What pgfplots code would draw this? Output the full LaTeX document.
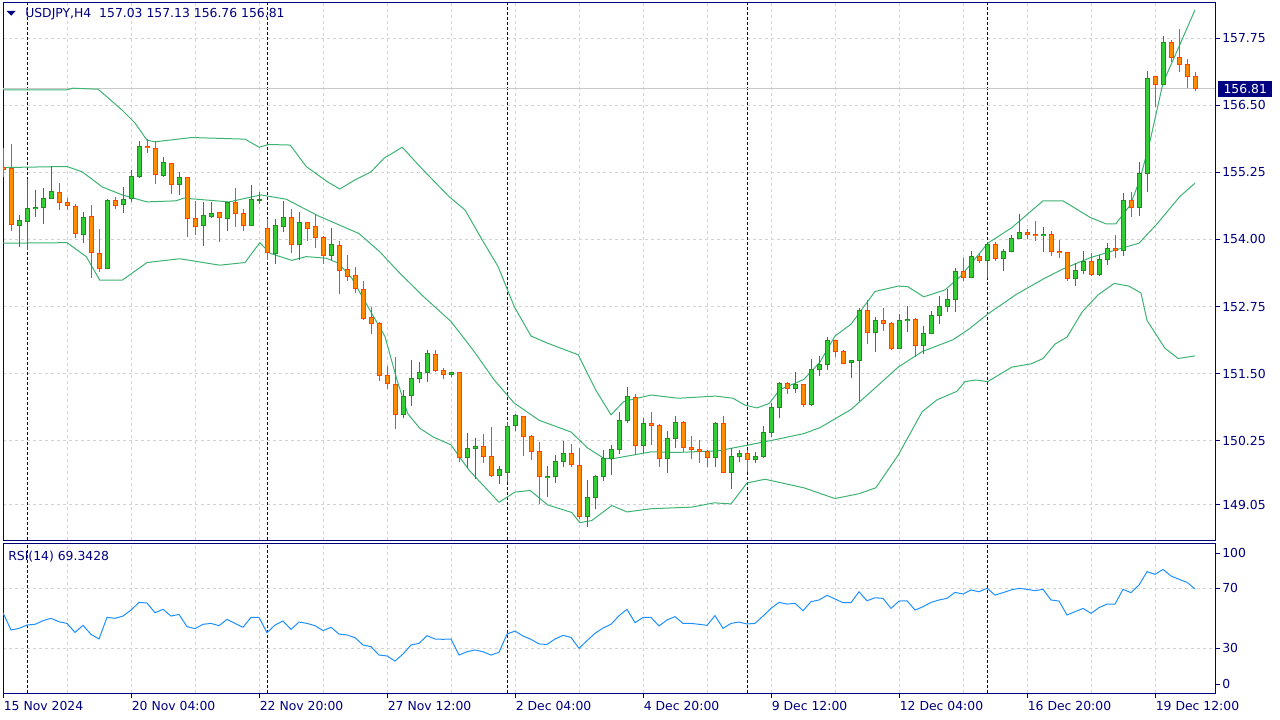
\documentclass[border=0pt]{standalone}
\usepackage{fontspec}
\setmainfont{DejaVu Sans}
\usepackage{pgfplots}
\usepackage{pgfplotstable}
\pgfplotsset{compat=1.18}

\definecolor{mtnavy}{RGB}{0,0,128}
\definecolor{gridc}{RGB}{211,211,211}
\definecolor{upfill}{RGB}{50,205,50}
\definecolor{updraw}{RGB}{34,139,34}
\definecolor{dnfill}{RGB}{255,140,0}
\definecolor{dndraw}{RGB}{255,69,0}
\definecolor{bandc}{RGB}{60,179,113}
\definecolor{rsic}{RGB}{30,144,255}
\definecolor{pricel}{RGB}{200,200,200}

% bullish candles: bar index, open, high, low, close
\pgfplotstableread{
k o h l c
-1 154.26 154.46 153.85 154.36
0 154.33 155.13 153.80 154.58
1 154.57 154.92 154.41 154.59
2 154.60 154.95 154.28 154.77
3 154.77 155.36 154.76 154.90
7 154.10 154.52 153.93 154.41
10 153.46 154.75 153.44 154.72
12 154.66 154.97 154.50 154.75
13 154.77 155.29 154.70 155.18
14 155.17 155.84 155.14 155.74
17 155.19 155.54 155.17 155.44
19 155.03 155.26 154.83 155.16
22 154.26 154.70 153.88 154.44
23 154.43 154.70 154.40 154.49
25 154.39 154.70 154.16 154.69
28 154.26 155.02 154.25 154.75
29 154.73 154.88 154.66 154.74
31 153.74 154.39 153.54 154.26
32 154.24 154.72 154.14 154.41
34 153.91 154.51 153.62 154.32
38 153.70 154.21 153.62 153.91
47 150.74 151.19 150.67 151.07
48 151.10 151.75 150.90 151.41
49 151.41 151.72 151.33 151.52
50 151.52 151.94 151.35 151.88
53 151.49 151.53 151.43 151.52
55 149.94 150.39 149.74 150.11
56 150.11 150.29 149.53 150.14
59 149.60 149.78 149.45 149.71
60 149.65 150.60 149.48 150.52
61 150.54 150.74 150.42 150.72
65 149.57 149.78 149.20 149.59
66 149.59 149.98 149.46 149.86
67 149.86 150.24 149.76 150.01
70 148.84 149.52 148.64 149.19
71 149.19 149.61 148.97 149.59
72 149.59 150.07 149.50 149.92
73 149.92 150.17 149.61 150.09
74 150.09 150.78 150.00 150.62
75 150.62 151.24 150.57 151.08
77 150.15 150.68 150.02 150.57
80 149.92 150.42 149.65 150.29
81 150.29 150.70 150.12 150.59
86 149.94 150.59 149.75 150.57
88 149.66 150.12 149.34 149.96
89 149.95 150.07 149.86 150.01
91 149.90 150.03 149.83 149.96
92 149.96 150.52 149.93 150.40
93 150.40 150.95 150.32 150.87
94 150.87 151.35 150.68 151.32
96 151.22 151.53 151.14 151.30
98 150.93 151.78 150.90 151.58
99 151.58 151.83 151.46 151.67
100 151.67 152.18 151.57 152.11
103 151.71 151.76 151.41 151.75
104 151.75 152.72 150.99 152.67
106 152.27 152.55 151.91 152.49
109 151.97 152.61 151.95 152.48
110 152.48 152.76 152.27 152.50
112 152.02 152.39 151.86 152.25
113 152.25 152.67 152.23 152.59
114 152.59 152.95 152.43 152.75
115 152.75 153.07 152.64 152.88
116 152.88 153.47 152.65 153.41
118 153.29 153.78 153.28 153.69
120 153.61 153.96 153.29 153.90
122 153.65 153.82 153.42 153.77
123 153.77 154.08 153.76 154.02
124 154.02 154.47 154.00 154.13
127 154.07 154.24 153.77 154.09
131 153.28 153.57 153.14 153.42
132 153.42 153.78 153.36 153.58
134 153.35 153.71 153.32 153.63
135 153.63 153.93 153.52 153.83
137 153.80 154.87 153.70 154.73
139 154.60 155.45 154.44 155.23
140 155.23 157.14 154.89 157.00
142 156.89 157.79 156.88 157.68
}\bulltab

% bearish candles: bar index, open, high, low, close
\pgfplotstableread{
k o h l c
-3 155.34 155.70 155.17 155.31
-2 155.33 155.78 154.16 154.28
4 154.88 155.05 154.55 154.69
5 154.69 154.77 154.55 154.63
6 154.62 154.66 154.02 154.11
8 154.43 154.64 153.28 153.76
9 153.74 154.19 153.40 153.46
11 154.73 154.80 154.56 154.64
15 155.74 155.87 155.62 155.72
16 155.70 155.84 155.03 155.21
18 155.42 155.43 154.85 155.03
20 155.16 155.17 154.05 154.39
21 154.39 154.72 154.08 154.24
24 154.51 154.52 153.96 154.41
26 154.69 154.95 154.24 154.49
27 154.49 154.56 154.16 154.26
30 154.21 154.38 153.62 153.76
33 154.41 154.56 153.74 153.91
35 154.32 154.33 153.98 154.21
36 154.25 154.47 153.84 154.04
37 154.04 154.06 153.54 153.70
39 153.89 153.97 152.98 153.43
40 153.44 153.71 153.23 153.31
41 153.33 153.48 153.00 153.09
42 153.07 153.23 152.49 152.53
43 152.55 152.75 152.23 152.44
44 152.44 152.46 151.36 151.47
45 151.47 151.64 151.21 151.32
46 151.30 151.80 150.46 150.74
51 151.86 151.94 151.53 151.55
52 151.56 151.60 151.39 151.49
54 151.52 151.53 149.86 149.94
57 150.14 150.37 149.83 149.96
58 149.96 150.51 149.57 149.60
62 150.70 150.71 149.97 150.33
63 150.33 150.36 149.89 150.05
64 150.05 150.22 149.06 149.58
68 150.01 150.19 149.76 149.80
69 149.79 150.12 148.78 148.84
76 151.06 151.12 149.98 150.15
78 150.56 150.78 150.17 150.53
79 150.53 150.56 149.76 149.92
82 150.59 150.61 150.04 150.12
83 150.12 150.34 149.90 150.09
84 150.09 150.27 149.84 150.04
85 150.04 150.07 149.75 149.94
87 150.57 150.70 149.64 149.66
90 150.01 150.07 149.67 149.90
95 151.32 151.34 151.11 151.22
97 151.30 151.31 150.88 150.93
101 152.11 152.12 151.81 151.91
102 151.91 151.93 151.69 151.69
105 152.67 152.87 152.05 152.27
107 152.48 152.72 152.30 152.44
108 152.44 152.46 151.93 151.97
111 152.50 152.53 151.80 152.02
117 153.41 153.66 153.23 153.29
119 153.69 153.74 153.57 153.61
121 153.90 153.96 153.59 153.65
125 154.13 154.19 154.00 154.10
126 154.10 154.34 153.97 154.07
128 154.09 154.16 153.70 153.77
129 153.77 153.99 153.65 153.75
130 153.75 153.76 153.23 153.28
133 153.58 153.74 153.32 153.35
136 153.83 154.08 153.66 153.80
138 154.73 154.88 154.42 154.60
141 157.03 157.05 156.47 156.89
143 157.68 157.72 157.30 157.40
144 157.40 157.92 157.13 157.27
145 157.27 157.36 156.82 157.04
146 157.03 157.13 156.76 156.81
}\beartab

\pgfplotsset{
  candle/.style 2 args={draw=none, mark=none, forget plot,
    error bars/y dir=both, error bars/y explicit, error bars/error mark=none,
    error bars/error bar style={draw=#1, solid, line width=#2}},
  mt/.style={
    scale only axis, width=909pt,
    xmin=-3, xmax=148.5,
    axis line style={mtnavy, line width=0.75pt},
    grid style={gridc, dash pattern=on 2.25pt off 2.25pt, line width=0.75pt},
    minor grid style={gridc, dash pattern=on 2.25pt off 2.25pt, line width=0.75pt},
    ytick pos=right, yticklabel pos=right, xtick pos=bottom,
    tick align=outside, major tick length=3.75pt, minor tick length=0pt,
    tick style={mtnavy, line width=0.75pt},
    ticklabel style={font=\fontsize{9.3}{11}\selectfont, text=mtnavy},
    yticklabel style={inner sep=0pt, xshift=1.5pt},
    extra x ticks={0,30,60,90,120}, extra x tick labels={},
    extra x tick style={grid=major, major tick length=0pt,
      major grid style={mtnavy, dash pattern=on 2.25pt off 1.5pt, line width=0.75pt}},
  },
}

\begin{document}
\begin{tikzpicture}[font=\fontsize{9.3}{11}\selectfont]
\path[use as bounding box] (0,0) rectangle (960pt,-540pt);

\begin{axis}[mt,
  at={(2.25pt,-2.25pt)}, anchor=north west,
  height=402.75pt,
  ymin=148.397, ymax=158.408,
  xtick={-3,5,...,141}, xticklabels={}, xtick style={draw=none},
  ytick={149.05,150.25,151.5,152.75,154,155.25,156.5,157.75},
  yticklabels={149.05,150.25,151.50,152.75,154.00,155.25,156.50,157.75},
  xmajorgrids, ymajorgrids,
]
\addplot[pricel, line width=0.75pt] coordinates {(-3,156.81) (148.5,156.81)};

% Bollinger bands (20,2)
\addplot[bandc, line width=0.75pt] coordinates {
(-3,156.79) (5,156.79) (5.75,156.82) (8.9,156.80) (11.9,156.41) (13.5,156.17) (15,155.85) (16,155.82)
(20.6,155.90) (27.25,155.87) (29,155.72) (30.25,155.77) (32.9,155.76) (34.9,155.36) (37.5,155.08)
(39.1,154.94) (41,155.11) (43,155.26) (44.6,155.51) (46.9,155.72) (49.1,155.36) (52.75,154.80)
(54.75,154.55) (56.9,153.99) (58.9,153.49) (60.9,152.75) (63,152.20) (65,152.07) (68.9,151.85)
(71.1,151.19) (73,150.73) (74.6,150.98) (78,151.10) (81.4,151.04) (86.1,151.08) (88.25,151.04)
(89.75,150.91) (91.25,150.86) (92.75,150.94) (94.1,151.20) (97.1,151.39) (99.1,151.71) (101,152.20)
(103,152.42) (106,153.03) (108.9,153.13) (110.1,153.12) (112.1,152.93) (114.75,153.06) (116.75,153.32)
(120.1,153.93) (123.1,154.22) (127,154.72) (129.5,154.72) (132.9,154.41) (134.9,154.29) (136.1,154.29)
(137.9,154.64) (139.1,155.11) (140.4,155.85) (142,156.92) (144.1,157.63) (146,158.28)};
\addplot[bandc, line width=0.75pt] coordinates {
(-3,155.34) (5,155.36) (6.9,155.26) (9.4,154.98) (11.9,154.83) (15,154.70) (18.6,154.72) (19.6,154.77)
(25.25,154.70) (29.25,154.83) (32.4,154.75) (36.4,154.44) (41.5,154.11) (44.1,153.77) (46.6,153.37)
(49.6,152.93) (53,152.47) (55.75,151.94) (58.4,151.38) (60.9,150.95) (64,150.63) (68,150.41)
(70.1,150.11) (72.1,149.92) (73.1,149.91) (78,150.04) (81.4,150.03) (86.4,150.06) (90.25,150.17)
(93.6,150.27) (97.1,150.38) (99.1,150.49) (103,150.83) (106,151.23) (108.9,151.62) (111.9,151.91)
(115.75,152.13) (117.75,152.33) (120.1,152.61) (123.6,152.97) (127,153.26) (129.5,153.45) (132.9,153.66)
(136.9,153.84) (139,153.93) (141.25,154.29) (144.1,154.80) (146,155.05)};
\addplot[bandc, line width=0.75pt] coordinates {
(-3,153.93) (5,153.94) (7.4,153.68) (9.1,153.24) (11.9,153.24) (15,153.57) (19.1,153.64) (24.1,153.52)
(27.25,153.57) (29.1,153.94) (30.4,153.74) (33.1,153.61) (34.9,153.68) (37.4,153.65) (38.9,153.56)
(40.6,153.28) (42.6,152.75) (44.75,152.19) (46.25,151.38) (47.6,150.75) (49.1,150.48) (50.75,150.32)
(53,150.17) (55.25,149.70) (59,149.10) (61,149.29) (62.9,149.32) (65.1,149.05) (68.1,148.91)
(69.1,148.72) (70.6,148.76) (73.1,149.04) (75,148.92) (78,148.98) (83.1,149.01) (85.9,149.09)
(88,149.07) (90,149.46) (92.25,149.53) (97.1,149.37) (101,149.17) (104,149.26) (106.1,149.37)
(108.9,149.98) (111.9,150.79) (113.75,151.01) (116.25,151.17) (117.25,151.35) (118.6,151.38)
(120.1,151.35) (123.1,151.62) (125.5,151.68) (127,151.78) (128.5,152.05) (130,152.18) (131.9,152.65)
(133.9,152.97) (135.9,153.18) (137.75,153.13) (139.25,153.00) (140,152.49) (142.25,151.97)
(143.9,151.78) (146,151.83)};

% wicks
\addplot[candle={updraw}{0.75pt}]
  table[x=k, y=l, y error plus expr={\thisrow{h}-\thisrow{l}}, y error minus expr={0}] {\bulltab};
\addplot[candle={dndraw}{0.75pt}]
  table[x=k, y=l, y error plus expr={\thisrow{h}-\thisrow{l}}, y error minus expr={0}] {\beartab};
% bodies: outline pass, then fill pass
\addplot[candle={updraw}{3.75pt}]
  table[x=k, y expr={\thisrow{o}-0.0093}, y error plus expr={\thisrow{c}-\thisrow{o}+0.0186}, y error minus expr={0}] {\bulltab};
\addplot[candle={upfill}{2.25pt}]
  table[x=k, y expr={\thisrow{o}+0.0093}, y error plus expr={max(\thisrow{c}-\thisrow{o}-0.0186,0)}, y error minus expr={0}] {\bulltab};
\addplot[candle={dndraw}{3.75pt}]
  table[x=k, y expr={\thisrow{c}-0.0093}, y error plus expr={\thisrow{o}-\thisrow{c}+0.0186}, y error minus expr={0}] {\beartab};
\addplot[candle={dnfill}{2.25pt}]
  table[x=k, y expr={\thisrow{c}+0.0093}, y error plus expr={max(\thisrow{o}-\thisrow{c}-0.0186,0)}, y error minus expr={0}] {\beartab};

\fill[mtnavy] ([xshift=2.8pt,yshift=-6pt]rel axis cs:0,1) -- ([xshift=9.55pt,yshift=-6pt]rel axis cs:0,1)
  -- ([xshift=6.175pt,yshift=-9.4pt]rel axis cs:0,1) -- cycle;
\node[anchor=base west, inner sep=0pt, text=mtnavy] at ([xshift=16.5pt,yshift=-10.9pt]rel axis cs:0,1)
  {USDJPY,H4\ \ 157.03 157.13 156.76 156.81};
\coordinate (pb) at (axis cs:148.5,156.81);
\end{axis}
\node[anchor=west, fill=mtnavy, text=white, inner sep=0pt, minimum width=40.5pt, minimum height=12pt,
  xshift=2.25pt] at (pb) {156.81};

\begin{axis}[mt,
  at={(2.25pt,-407.25pt)}, anchor=north west,
  height=112.5pt,
  ymin=0, ymax=100,
  xtick={-3,13,...,141},
  xticklabels={15 Nov 2024,20 Nov 04:00,22 Nov 20:00,27 Nov 12:00,2 Dec 04:00,4 Dec 20:00,9 Dec 12:00,12 Dec 04:00,16 Dec 20:00,19 Dec 12:00},
  minor xtick={5,21,...,133},
  xmajorgrids, xminorgrids,
  xticklabel style={anchor=north west, inner sep=0pt, yshift=-2.25pt, xshift=0.4pt},
  ytick={30,70}, yticklabels={30,70}, ymajorgrids,
  extra y ticks={6,93.3}, extra y tick labels={0,100}, extra y tick style={grid=none},
]
\addplot[rsic, line width=0.75pt] coordinates {
(-3,53.5) (-2,42) (-1,43.1) (0,45.3) (1,45.8) (2,48.2) (3,49.8) (4,47.5) (5,46.4) (6,40.4) (7,45.1)
(8,39.1) (9,36) (10,50.4) (11,49.8) (12,51.3) (13,55.3) (14,60.4) (15,60) (16,53.5) (17,55.8) (18,51.3)
(19,52.4) (20,44.2) (21,42.9) (22,45.8) (23,46.4) (24,44.9) (25,49.1) (26,46.4) (27,43.8) (28,50.4)
(29,50.4) (30,40.2) (31,45.3) (32,48) (33,42.4) (34,47.3) (35,46.4) (36,44.9) (37,41.6) (38,43.8)
(39,39.3) (40,38.7) (41,36.9) (42,32) (43,30.9) (44,25.3) (45,24.7) (46,21.3) (47,26) (48,32) (49,33.1)
(50,38.2) (51,36) (52,35.8) (53,36) (54,25.3) (55,27.5) (56,28.7) (57,27.5) (58,25.3) (59,27.1)
(60,39.3) (61,41.3) (62,38) (63,35.8) (64,32.7) (65,32.4) (66,36) (67,38.4) (68,37.1) (69,29.8)
(70,34.9) (71,39.8) (72,43.3) (73,45.8) (74,51.5) (75,55.8) (76,46.9) (77,50.4) (78,50.4) (79,44.7)
(80,48.7) (81,50.9) (82,46.4) (83,46.4) (84,45.8) (85,45.1) (86,51.6) (87,43.1) (88,46.4) (89,47.3)
(90,46) (91,46.4) (92,51.3) (93,56.4) (94,60.4) (95,59.3) (96,59.8) (97,54.9) (98,60.9) (99,62)
(100,65.1) (101,62.7) (102,60.2) (103,60.2) (104,67.5) (105,61.5) (106,63.5) (107,63.1) (108,56.4)
(109,61.3) (110,61.5) (111,55.3) (112,57.5) (113,60.4) (114,62) (115,63.1) (116,67.1) (117,66)
(118,68.7) (119,67.5) (120,69.8) (121,65.3) (122,66.9) (123,68.7) (124,69.8) (125,69.1) (126,68.2)
(127,69.1) (128,62) (129,61.3) (130,52) (131,54.2) (132,56.4) (133,53.1) (134,56.9) (135,59.3)
(136,59.3) (137,69.1) (138,66.9) (139,72) (140,80.9) (141,79.1) (142,82.4) (143,78) (144,75.8)
(145,73.8) (146,69.34)};
\node[anchor=base west, inner sep=0pt, text=mtnavy] at ([xshift=3.75pt,yshift=-12.75pt]rel axis cs:0,1)
  {RSI(14) 69.3428};
\end{axis}
\end{tikzpicture}
\end{document}
